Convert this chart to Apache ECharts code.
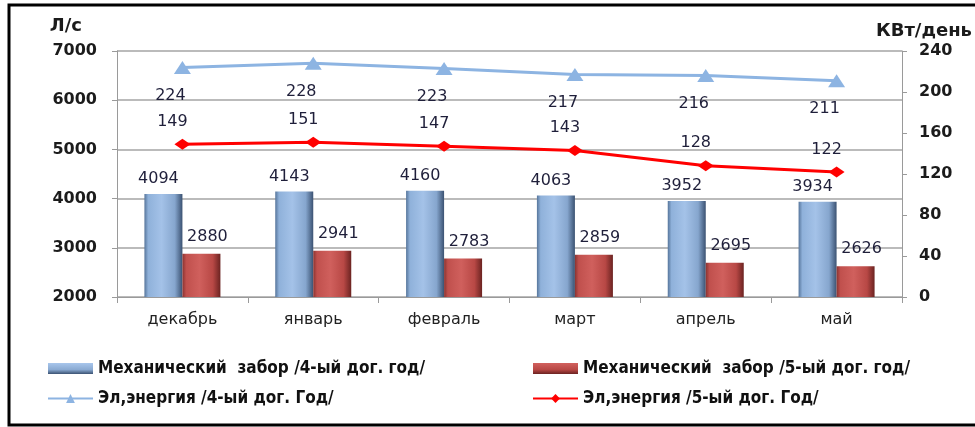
<!DOCTYPE html>
<html><head><meta charset="utf-8">
<script src="https://cdn.jsdelivr.net/npm/echarts@6/dist/echarts.min.js"></script>
<style>html,body{margin:0;padding:0;background:#fff}#c{width:975px;height:427px}</style>
</head><body><div id="c"></div>
<script>
const categories = ['декабрь','январь','февраль','март','апрель','май'];
const mech4 = [4094,4143,4160,4063,3952,3934];
const mech5 = [2880,2941,2783,2859,2695,2626];
const el4 = [224,228,223,217,216,211];
const el5 = [149,151,147,143,128,122];
const leftTicks = {min:2000,max:7000,interval:1000};
const rightTicks = {min:0,max:240,interval:40};
const names = ['Механический  забор /4-ый дог. год/','Механический  забор /5-ый дог. год/','Эл,энергия /4-ый дог. Год/','Эл,энергия /5-ый дог. Год/'];

const chart = echarts.init(document.getElementById('c'));
const G = echarts.graphic;
const blueGrad = new G.LinearGradient(0,0,1,0,[
  {offset:0,color:'#56759b'},{offset:0.1,color:'#8fb1da'},{offset:0.45,color:'#a4c2e8'},
  {offset:0.8,color:'#86a6ce'},{offset:1,color:'#3b5272'}]);
const redGrad = new G.LinearGradient(0,0,1,0,[
  {offset:0,color:'#8a3331'},{offset:0.1,color:'#c0504d'},{offset:0.45,color:'#d0605d'},
  {offset:0.8,color:'#b84845'},{offset:1,color:'#6b2321'}]);
const blueLeg = new G.LinearGradient(0,0,0,1,[{offset:0,color:'#a8c6ec'},{offset:0.6,color:'#8aaad2'},{offset:1,color:'#3b5272'}]);
const redLeg = new G.LinearGradient(0,0,0,1,[{offset:0,color:'#d2615e'},{offset:0.6,color:'#b84845'},{offset:1,color:'#6b2321'}]);
const axisFont = {fontFamily:'DejaVu Sans',fontWeight:'bold',fontSize:16,color:'#1b1b1b'};
const dataFont = {fontFamily:'DejaVu Sans',fontSize:16,color:'#1f1f3a'};
const legText = {fontFamily:'DejaVu Sans Condensed',fontWeight:'bold',fontSize:17,color:'#111'};
chart.setOption({
  animation:false,
  textStyle:{fontFamily:'DejaVu Sans'},
  graphic:[{type:'rect',shape:{x:9,y:5,width:980,height:420},style:{fill:'none',stroke:'#000',lineWidth:3},silent:true}],
  grid:{left:117,right:72,top:51,bottom:130},
  legend:[
    {left:47,top:360,padding:0,orient:'vertical',itemGap:13,itemWidth:45,itemHeight:11,
     data:[{name:names[0],icon:'rect',itemStyle:{color:blueLeg}},names[2]],textStyle:legText},
    {left:532,top:360,padding:0,orient:'vertical',itemGap:13,itemWidth:45,itemHeight:11,
     data:[{name:names[1],icon:'rect',itemStyle:{color:redLeg}},names[3]],textStyle:legText}
  ],
  xAxis:{type:'category',data:categories,
    axisLine:{lineStyle:{color:'#9a9a9a',width:1}},
    axisTick:{show:true,length:6,lineStyle:{color:'#9a9a9a'}},
    axisLabel:{fontFamily:'DejaVu Sans',fontSize:16,color:'#222',margin:15}},
  yAxis:[
    {type:'value',min:leftTicks.min,max:leftTicks.max,interval:leftTicks.interval,
     name:'Л/с',nameLocation:'end',nameGap:16,nameTextStyle:{...axisFont,fontSize:18,align:'right',padding:[0,35,0,0]},
     axisLine:{show:true,lineStyle:{color:'#9a9a9a'}},axisTick:{show:true,length:5,lineStyle:{color:'#9a9a9a'}},
     axisLabel:{...axisFont,margin:20,formatter:v=>String(v)},
     splitLine:{lineStyle:{color:'#a5a5a5',width:1.5}}},
    {type:'value',min:rightTicks.min,max:rightTicks.max,interval:rightTicks.interval,position:'right',
     name:'КВт/день',nameLocation:'end',nameGap:11,nameTextStyle:{...axisFont,fontSize:18,align:'left',padding:[0,0,0,-26]},
     axisLine:{show:true,lineStyle:{color:'#9a9a9a'}},axisTick:{show:true,length:5,lineStyle:{color:'#9a9a9a'}},
     axisLabel:{...axisFont,margin:17,formatter:v=>String(v)},splitLine:{show:false}}
  ],
  series:[
    {name:names[0],type:'bar',data:mech4,barWidth:38,barGap:'0%',yAxisIndex:0,
     itemStyle:{color:blueGrad},
     label:{show:true,position:'top',distance:7,offset:[-5,0],...dataFont}},
    {name:names[1],type:'bar',data:mech5,barWidth:38,barGap:'0%',yAxisIndex:0,
     itemStyle:{color:redGrad},
     label:{show:true,position:'top',distance:9,offset:[6,0],...dataFont}},
    {name:names[2],type:'line',data:el4,yAxisIndex:1,symbol:'triangle',symbolSize:[17,13],
     lineStyle:{color:'#8db4e2',width:3},itemStyle:{color:'#8db4e2'},
     label:{show:true,position:'bottom',distance:14,offset:[-12,0],...dataFont}},
    {name:names[3],type:'line',data:el5,yAxisIndex:1,symbol:'diamond',symbolSize:[16,11],
     lineStyle:{color:'#ff0000',width:3},itemStyle:{color:'#ff0000'},
     label:{show:true,position:'top',distance:9,offset:[-10,0],...dataFont}}
  ]
});
</script></body></html>
